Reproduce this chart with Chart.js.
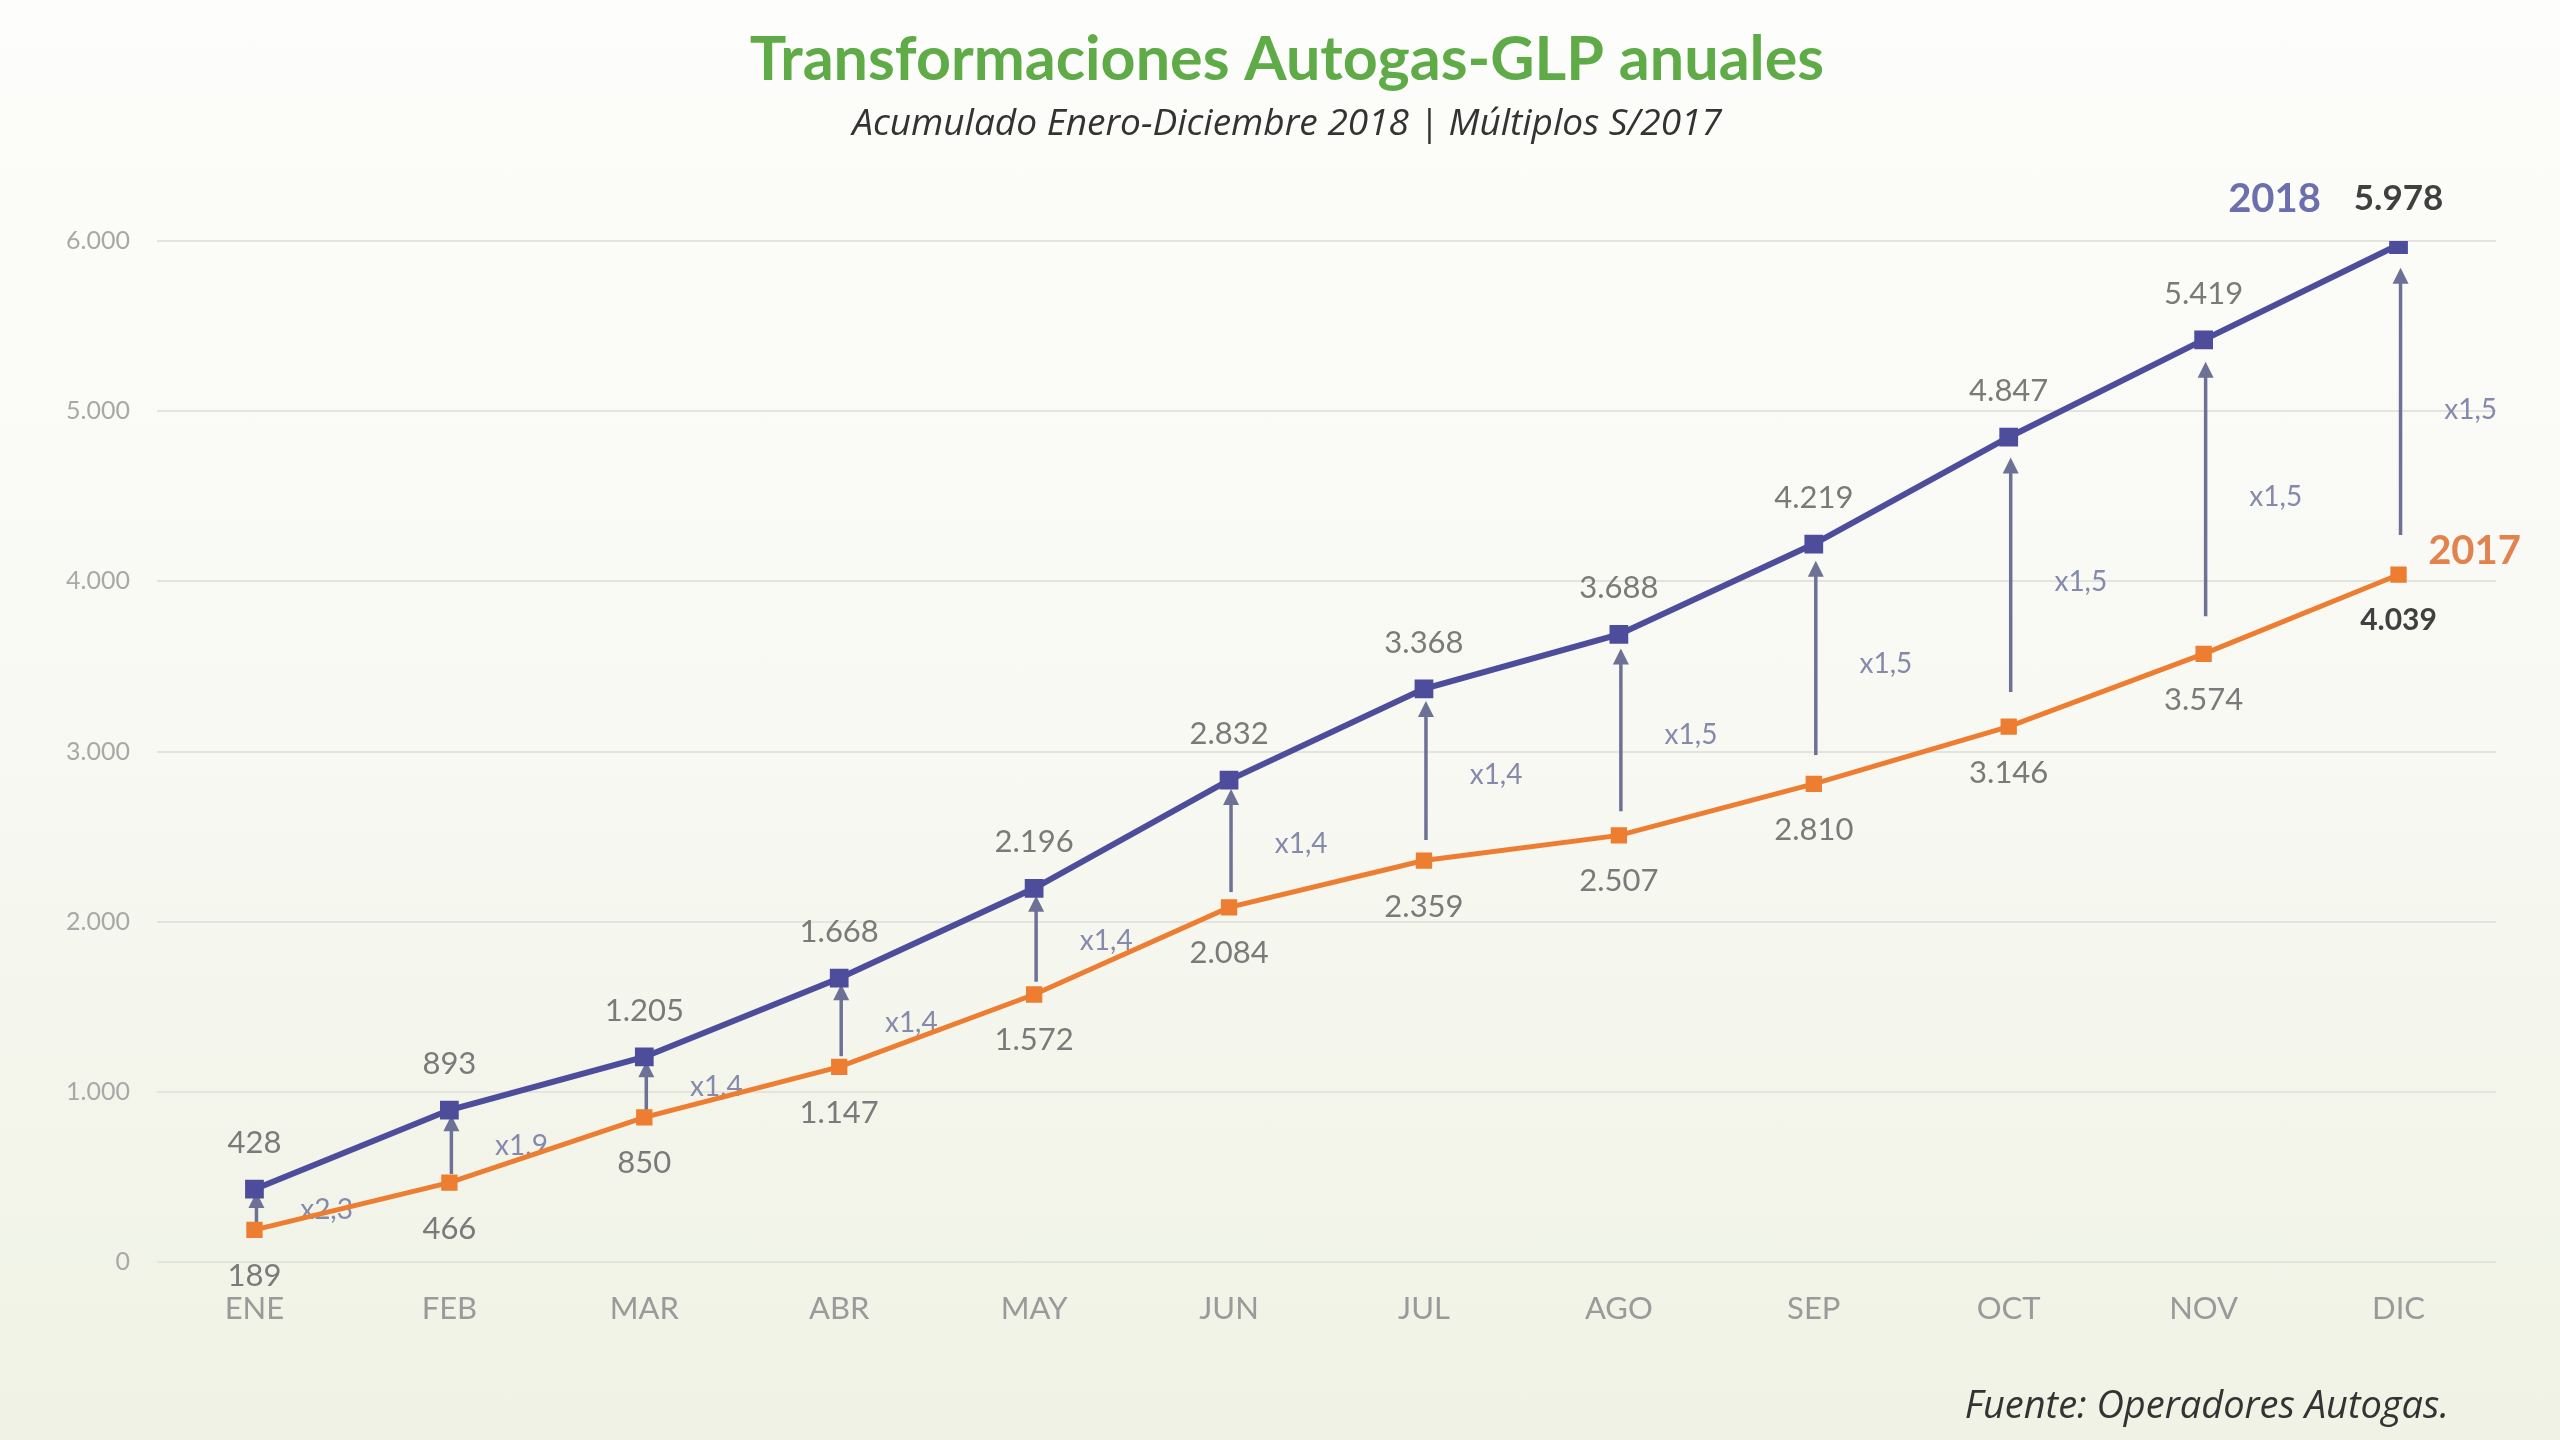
<!DOCTYPE html>
<html>
<head>
<meta charset="utf-8">
<script src="https://cdn.jsdelivr.net/npm/chart.js@4"></script>
<style>
    html, body {
        margin: 0;
        padding: 0;
        width: 2560px;
        height: 1440px;
        overflow: hidden;
        background: linear-gradient(180deg, #fdfdfb 0%, #f8f9f3 50%, #eff2e4 100%);
    }
    canvas { display: block; }
</style>
</head>
<body>
<canvas id="autogasChart" width="2560" height="1440"></canvas>
<script>
const months = ['ENE', 'FEB', 'MAR', 'ABR', 'MAY', 'JUN', 'JUL', 'AGO', 'SEP', 'OCT', 'NOV', 'DIC'];
const values2018 = [428, 893, 1205, 1668, 2196, 2832, 3368, 3688, 4219, 4847, 5419, 5978];
const values2017 = [189, 466, 850, 1147, 1572, 2084, 2359, 2507, 2810, 3146, 3574, 4039];
const multiples = ['x2,3', 'x1,9', 'x1,4', 'x1,4', 'x1,4', 'x1,4', 'x1,4', 'x1,5', 'x1,5', 'x1,5', 'x1,5', 'x1,5'];
const yTicks = [0, 1000, 2000, 3000, 4000, 5000, 6000];

const blue = '#4d4d9c';
const orange = '#ed7d31';
const arrowColor = '#6e7196';

function fmt(v) {
    return v.toLocaleString('de-DE'); // 5.978
}

// arrows 2017 -> 2018 plus the "x1,5" multiples
const arrowsPlugin = {
    id: 'arrows',
    beforeDatasetsDraw(chart) {
        const ctx = chart.ctx;
        const x = chart.scales.x;
        const y = chart.scales.y;
        const slot = x.getPixelForValue(1) - x.getPixelForValue(0);
        ctx.save();
        months.forEach((m, i) => {
            const px = x.getPixelForValue(i) + 2;
            const y17 = y.getPixelForValue(values2017[i]);
            const y18 = y.getPixelForValue(values2018[i]);
            const len = y17 - y18;
            const bottom = y17 - len * 0.12;
            const tip = y18 + len * 0.07;
            ctx.strokeStyle = arrowColor;
            ctx.fillStyle = arrowColor;
            ctx.lineWidth = 3.5;
            ctx.beginPath();
            ctx.moveTo(px, bottom);
            ctx.lineTo(px, tip + 12);
            ctx.stroke();
            ctx.beginPath();
            ctx.moveTo(px, tip);
            ctx.lineTo(px - 8, tip + 16);
            ctx.lineTo(px + 8, tip + 16);
            ctx.closePath();
            ctx.fill();

            ctx.font = '28px Lato';
            ctx.fillStyle = '#8589ab';
            ctx.textAlign = 'center';
            ctx.textBaseline = 'middle';
            ctx.fillText(multiples[i], x.getPixelForValue(i) + slot * 0.37, (y17 + y18) / 2);
        });
        ctx.restore();
    },
};

// value labels, series names, title and source
const labelsPlugin = {
    id: 'labels',
    afterDatasetsDraw(chart) {
        const ctx = chart.ctx;
        const last = months.length - 1;
        ctx.save();
        ctx.textAlign = 'center';
        ctx.textBaseline = 'middle';

        chart.getDatasetMeta(0).data.forEach((pt, i) => {
            ctx.font = i == last ? 'bold 35px Lato' : '31px Lato';
            ctx.fillStyle = i == last ? '#404040' : '#7a7a7a';
            ctx.fillText(fmt(values2018[i]), pt.x, pt.y - 46);
        });
        chart.getDatasetMeta(1).data.forEach((pt, i) => {
            ctx.font = i == last ? 'bold 30px Lato' : '31px Lato';
            ctx.fillStyle = i == last ? '#404040' : '#7a7a7a';
            ctx.fillText(fmt(values2017[i]), pt.x, pt.y + 46);
        });

        const p18 = chart.getDatasetMeta(0).data[last];
        const p17 = chart.getDatasetMeta(1).data[last];
        ctx.font = 'bold 40px Lato';
        ctx.fillStyle = '#6b6fae';
        ctx.fillText('2018', p18.x - 124, p18.y - 46);
        ctx.fillStyle = '#e2834f';
        ctx.fillText('2017', p17.x + 76, p17.y - 24);

        ctx.font = 'bold 61px Lato';
        ctx.fillStyle = '#5eab48';
        ctx.fillText('Transformaciones Autogas-GLP anuales', 1287, 60);
        ctx.font = 'italic 37px "Open Sans"';
        ctx.fillStyle = '#333333';
        ctx.fillText('Acumulado Enero-Diciembre 2018 | Múltiplos S/2017', 1287, 124);

        ctx.textAlign = 'right';
        ctx.font = 'italic 38px "Open Sans"';
        ctx.fillText('Fuente: Operadores Autogas.', 2449, 1407);
        ctx.restore();
    },
};

new Chart(document.getElementById('autogasChart'), {
    type: 'line',
    data: {
        labels: months,
        datasets: [
            {
                label: '2018',
                data: values2018,
                borderColor: blue,
                backgroundColor: blue,
                borderWidth: 6,
                pointStyle: 'rect',
                pointRadius: 9,
                tension: 0,
            },
            {
                label: '2017',
                data: values2017,
                borderColor: orange,
                backgroundColor: orange,
                borderWidth: 5,
                pointStyle: 'rect',
                pointRadius: 8,
                tension: 0,
            },
        ],
    },
    options: {
        responsive: false,
        animation: false,
        layout: {
            padding: { top: 241, right: 64, bottom: 114, left: 0 },
        },
        plugins: {
            legend: { display: false },
            tooltip: { enabled: false },
        },
        scales: {
            x: {
                offset: true,
                grid: { display: false, drawTicks: false },
                border: { display: false },
                ticks: {
                    color: '#9a9a9a',
                    font: { family: 'Lato', size: 31 },
                    padding: 28,
                    maxRotation: 0,
                    autoSkip: false,
                },
                afterFit: (scale) => { scale.height = 64; },
            },
            y: {
                min: 0,
                max: 6000,
                afterBuildTicks: (scale) => { scale.ticks = yTicks.map((v) => ({ value: v })); },
                grid: { color: '#e3e4de', lineWidth: 2, drawTicks: false },
                border: { display: false },
                ticks: {
                    color: '#a8a8a8',
                    font: { family: 'Lato', size: 25 },
                    padding: 27,
                    callback: (v) => fmt(v),
                },
                afterFit: (scale) => { scale.width = 157; },
            },
        },
    },
    plugins: [arrowsPlugin, labelsPlugin],
});
</script>
</body>
</html>
